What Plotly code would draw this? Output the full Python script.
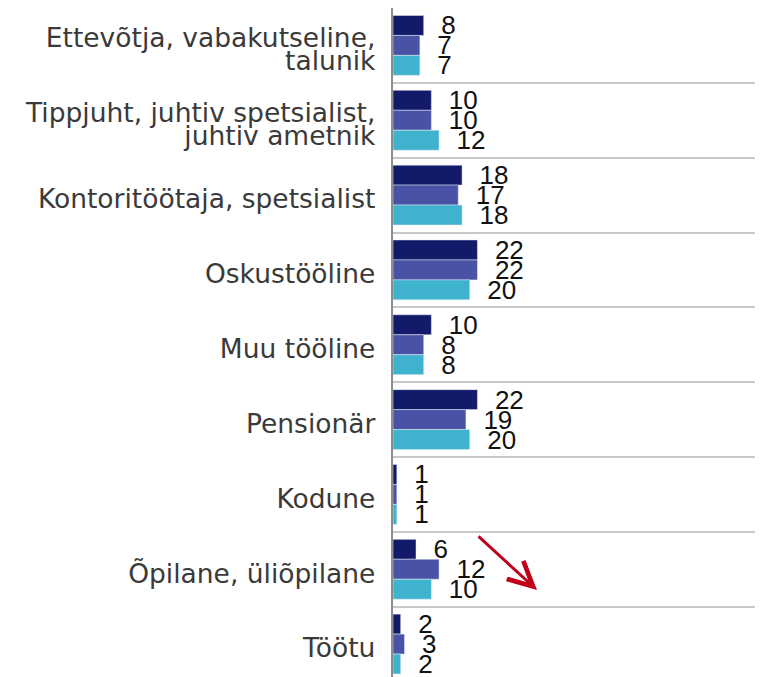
import plotly.graph_objects as go

categories = [
    "Ettevõtja, vabakutseline,<br>talunik",
    "Tippjuht, juhtiv spetsialist,<br>juhtiv ametnik",
    "Kontoritöötaja, spetsialist",
    "Oskustööline",
    "Muu tööline",
    "Pensionär",
    "Kodune",
    "Õpilane, üliõpilane",
    "Töötu",
]
series_names = ["Seeria 1", "Seeria 2", "Seeria 3"]
series_1 = [8, 10, 18, 22, 10, 22, 1, 6, 2]
series_2 = [7, 10, 17, 22, 8, 19, 1, 12, 3]
series_3 = [7, 12, 18, 20, 8, 20, 1, 10, 2]
colors = ["#141a6a", "#4a52a6", "#3fb3ce"]

fig = go.Figure()
for name, vals, col in zip(series_names, [series_1, series_2, series_3], colors):
    fig.add_trace(go.Bar(
        y=categories,
        x=vals,
        name=name,
        orientation="h",
        marker=dict(color=col),
        # nbsp pushes the value a bit away from the bar end
        text=["\u00a0\u00a0" + str(v) for v in vals],
        textposition="outside",
        constraintext="none",
        cliponaxis=False,
        textfont=dict(family="Liberation Sans", size=26, color="#111111"),
    ))

# page body has an 8px margin, so the figure is 8px smaller than the window
fig.update_layout(
    width=755,
    height=669,
    margin=dict(l=385, r=0, t=0, b=0),
    barmode="group",
    bargap=0.2,
    bargroupgap=0,
    showlegend=False,
    plot_bgcolor="white",
    paper_bgcolor="white",
    font=dict(family="DejaVu Sans", size=18, color="#3a3a3a"),
)
fig.update_xaxes(
    range=[0, 96.4],
    side="top",
    showline=True,
    linecolor="#8c8c8c",
    linewidth=2,
    showgrid=False,
    zeroline=False,
    showticklabels=False,
    ticks="",
)
# small base font keeps the two-line labels tight, the span makes the glyphs big
fig.update_yaxes(
    type="category",
    range=[8.44, -0.5],
    tickson="boundaries",
    tickmode="array",
    tickvals=categories,
    ticktext=['<span style="font-size:26.5px">' + c.replace("<br>", '</span><br><span style="font-size:26.5px">') + "</span>" for c in categories],
    tickfont=dict(size=18),
    showgrid=True,
    gridcolor="#c8c8c8",
    gridwidth=2,
    showline=True,
    linecolor="#8c8c8c",
    linewidth=2,
    ticks="",
    ticklabelstandoff=12,
    ticklabelshift=-7,
)

# red downward trend arrow
fig.add_annotation(
    xref="paper", yref="paper",
    x=(537 - 393) / 370, y=(677 - 590) / 669,
    ax=-60, ay=-55,
    axref="pixel", ayref="pixel",
    text="",
    showarrow=True,
    arrowhead=5,
    arrowsize=1.6,
    arrowwidth=3,
    arrowcolor="#c00018",
)

fig.write_html("out.html")
